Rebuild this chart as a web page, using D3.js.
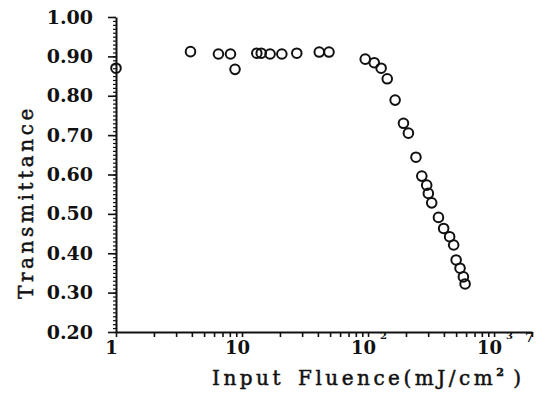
<!DOCTYPE html>
<html>
<head>
<meta charset="utf-8">
<script src="https://cdn.jsdelivr.net/npm/d3@7"></script>
<style>
body { margin: 0; background: #fff; }
text { font-family: "DejaVu Serif", serif; fill: #111; }
.axis path, .axis line { stroke: #111; }
</style>
</head>
<body>
<div id="chart"></div>
<script>
// values
var fluence = [1, 3.9, 6.5, 8.1, 8.8, 13.1, 14.2, 16.7, 20.7, 27.2, 41, 49,
               95, 112, 127, 142, 164, 191, 209, 240, 267, 292, 301, 320,
               362, 398, 444, 478, 500, 537, 571, 589];
var transmittance = [0.87, 0.912, 0.906, 0.906, 0.867, 0.908, 0.908, 0.906, 0.906, 0.908, 0.911, 0.911,
                     0.893, 0.884, 0.870, 0.843, 0.789, 0.730, 0.705, 0.644, 0.596, 0.573, 0.552, 0.528,
                     0.491, 0.463, 0.442, 0.421, 0.383, 0.362, 0.340, 0.322];
var yTicks = [0.2, 0.3, 0.4, 0.5, 0.6, 0.7, 0.8, 0.9, 1.0];
var xTicks = [1, 10, 100, 1000];
var xTickLabels = ["1", "10", "10", "10"];
var xTickSups = ["", "", "2", "3"];

var width = 547, height = 398;
var margin = {top: 17, right: 15, bottom: 66, left: 116};

var svg = d3.select("#chart")
    .append("svg")
    .attr("width", width)
    .attr("height", height);

var x = d3.scaleLog()
    .domain([1, 2000])
    .range([margin.left, width - margin.right]);

var y = d3.scaleLinear()
    .domain([0.2, 1.0])
    .range([height - margin.bottom, margin.top]);

// minor y ticks every 0.01
var yMinor = d3.range(20, 101).map(function(d) { return d / 100; });
svg.append("g")
    .attr("class", "axis")
    .attr("transform", "translate(" + margin.left + ",0)")
    .call(d3.axisLeft(y).tickValues(yMinor).tickSize(3).tickSizeOuter(0).tickFormat(""))
    .call(function(g) { g.select(".domain").remove(); })
    .selectAll("line").attr("stroke-width", 1.2);

// major y ticks + labels
var yAxis = svg.append("g")
    .attr("class", "axis")
    .attr("transform", "translate(" + margin.left + ",0)")
    .call(d3.axisLeft(y).tickValues(yTicks).tickSize(8).tickSizeOuter(0).tickPadding(15)
        .tickFormat(d3.format(".2f")));
yAxis.select(".domain").attr("stroke-width", 2);
yAxis.selectAll("line").attr("stroke-width", 1.6);
yAxis.selectAll("text")
    .attr("font-family", "DejaVu Serif")
    .attr("font-weight", "bold")
    .attr("font-size", 19)
    .attr("fill", "#111");

// minor x ticks
var xMinor = [];
[1, 10, 100, 1000].forEach(function(dec) {
    for (var k = 2; k <= 9; k++) if (dec * k <= 2000) xMinor.push(dec * k);
});
svg.append("g")
    .attr("class", "axis")
    .attr("transform", "translate(0," + y(0.2) + ")")
    .call(d3.axisBottom(x).tickValues(xMinor).tickSize(5).tickSizeOuter(0).tickFormat(""))
    .call(function(g) { g.select(".domain").remove(); })
    .selectAll("line").attr("stroke-width", 1.6);

// major x ticks + labels with superscripts
var xAxis = svg.append("g")
    .attr("class", "axis")
    .attr("transform", "translate(0," + y(0.2) + ")")
    .call(d3.axisBottom(x).tickValues(xTicks).tickSize(5).tickSizeOuter(0).tickFormat(""));
xAxis.select(".domain").attr("stroke-width", 2);
xAxis.selectAll("line").attr("stroke-width", 1.6);
xAxis.selectAll(".tick").each(function(d, i) {
    d3.select(this).append("text")
        .attr("x", -5)
        .attr("y", 22)
        .attr("text-anchor", "middle")
        .attr("font-size", 18)
        .attr("font-weight", "bold")
        .text(xTickLabels[i]);
    if (xTickSups[i]) {
        d3.select(this).append("text")
            .attr("x", 15)
            .attr("y", 7)
            .attr("font-size", 10)
            .attr("font-weight", "bold")
            .text(xTickSups[i]);
    }
});
// stray mark at the axis end, as printed
svg.append("text")
    .attr("x", x(2000) - 7)
    .attr("y", y(0.2) + 10)
    .attr("font-size", 13)
    .attr("font-weight", "bold")
    .text("7");

// axis titles
svg.append("text")
    .attr("transform", "translate(33,202)rotate(-90)")
    .attr("text-anchor", "middle")
    .attr("font-size", 20)
    .attr("stroke", "#111")
    .attr("stroke-width", 0.5)
    .attr("letter-spacing", 3.6)
    .text("Transmittance");

var xt = svg.append("text")
    .attr("x", 212)
    .attr("y", 385)
    .attr("font-size", 20)
    .attr("stroke", "#111")
    .attr("stroke-width", 0.5)
    .attr("letter-spacing", 3.5);
xt.append("tspan").text("Input");
xt.append("tspan").attr("dx", 14).text("Fluence(mJ/cm");
xt.append("tspan").attr("font-size", 11).attr("font-weight", "bold").attr("dy", -9).text("2");
xt.append("tspan").attr("dy", 9).attr("dx", 6).text(")");

// data points
svg.append("g")
    .selectAll("circle")
    .data(fluence)
    .enter()
    .append("circle")
    .attr("cx", function(d) { return x(d); })
    .attr("cy", function(d, i) { return y(transmittance[i]); })
    .attr("r", 4.8)
    .attr("fill", "none")
    .attr("stroke", "#111")
    .attr("stroke-width", 2);
</script>
</body>
</html>
